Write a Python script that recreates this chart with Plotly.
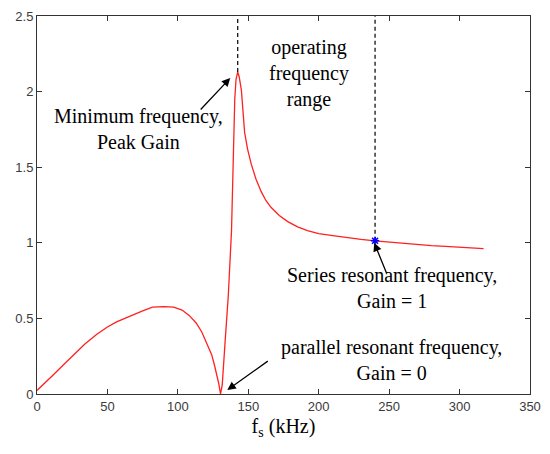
import plotly.graph_objects as go

# Frequency (kHz) and gain
freq = [0, 6, 12, 19, 26, 34, 42.5, 50, 56.5, 62, 68, 75, 82, 90, 97, 103, 108, 113, 117, 121,
        124, 126, 127.6, 129, 130.3, 131.5, 133.4, 135.8, 138.1, 139.3, 140.4, 141.3, 142.5,
        143.5, 145.1, 147.4, 149.5, 152.1, 155.5, 159.1, 162.5, 166.1, 172, 178, 185, 192, 200,
        210, 220, 230, 240, 250, 260, 270, 280, 290, 300, 310, 317]
gain = [0.023, 0.075, 0.131, 0.195, 0.261, 0.33, 0.395, 0.443, 0.477, 0.50, 0.52, 0.55, 0.575,
        0.578, 0.575, 0.555, 0.52, 0.47, 0.41, 0.33, 0.26, 0.19, 0.13, 0.07, 0.0, 0.06, 0.325,
        0.65, 1.08, 1.52, 1.95, 2.08, 2.13, 2.10, 2.01, 1.73, 1.62, 1.52, 1.42, 1.34, 1.28,
        1.235, 1.18, 1.14, 1.105, 1.08, 1.06, 1.047, 1.033, 1.022, 1.013, 1.004, 0.995, 0.987,
        0.981, 0.977, 0.973, 0.967, 0.962]

peak_freq = 142.5
peak_gain = 2.13
series_freq = 240
series_gain = 1.013
y_top = 2.5

x_ticks = [0, 50, 100, 150, 200, 250, 300, 350]
y_ticks = [0, 0.5, 1, 1.5, 2, 2.5]
y_tick_labels = ["0", "0.5", "1", "1.5", "2", "2.5"]

fig = go.Figure()
fig.add_trace(go.Scatter(x=freq, y=gain, mode="lines",
                         line=dict(color="#ff2020", width=1.3), showlegend=False))
# dashed boundary lines of the operating range
fig.add_trace(go.Scatter(x=[peak_freq, peak_freq], y=[peak_gain, y_top], mode="lines",
                         line=dict(color="black", width=1.2, dash="4px,3px"), showlegend=False))
fig.add_trace(go.Scatter(x=[series_freq, series_freq], y=[series_gain, y_top], mode="lines",
                         line=dict(color="black", width=1.2, dash="4px,3px"), showlegend=False))
fig.add_trace(go.Scatter(x=[series_freq], y=[series_gain], mode="markers",
                         marker=dict(symbol="asterisk-open", size=7, color="blue",
                                     line=dict(color="blue", width=1.5)), showlegend=False))

serif = dict(family="Liberation Serif, Times New Roman, serif", size=20, color="black")

texts = [
    ("operating<br>frequency<br>range", 193.2, 2.123),
    ("Minimum frequency,<br>Peak Gain", 72, 1.75),
    ("Series resonant frequency,<br>Gain = 1", 252, 0.70),
    ("parallel resonant frequency,<br>Gain = 0", 252, 0.222),
]
for t, x, y in texts:
    fig.add_annotation(x=x, y=y, text=t, showarrow=False, font=serif,
                       xanchor="center", yanchor="middle")

arrows = [
    (137.2, 2.09, -31, 33),
    (239.4, 1.0, 13, 32),
    (135.1, 0.026, 42, -30),
]
for x, y, ax, ay in arrows:
    fig.add_annotation(x=x, y=y, ax=ax, ay=ay, text="", showarrow=True,
                       arrowhead=2, arrowsize=1.3, arrowwidth=1.3, arrowcolor="black",
                       standoff=0, startstandoff=0)

axis_common = dict(showline=True, linecolor="#333333", linewidth=1, mirror="ticks",
                   ticks="inside", ticklen=5, tickcolor="#333333", showgrid=False,
                   zeroline=False,
                   tickfont=dict(family="Liberation Sans, Arial, sans-serif", size=13,
                                 color="#3a3a3a"))
fig.update_xaxes(range=[0, 350], tickvals=x_ticks, **axis_common,
                 title=dict(text="f<sub>s</sub> (kHz)",
                            font=dict(family="Liberation Serif, Times New Roman, serif",
                                      size=20, color="black"),
                            standoff=6))
fig.update_yaxes(range=[0, 2.5], tickvals=y_ticks, ticktext=y_tick_labels, **axis_common)

fig.update_layout(width=550, height=454, margin=dict(l=37, r=13, t=9, b=60),
                  plot_bgcolor="white", paper_bgcolor="white")
fig.write_html("out.html")
